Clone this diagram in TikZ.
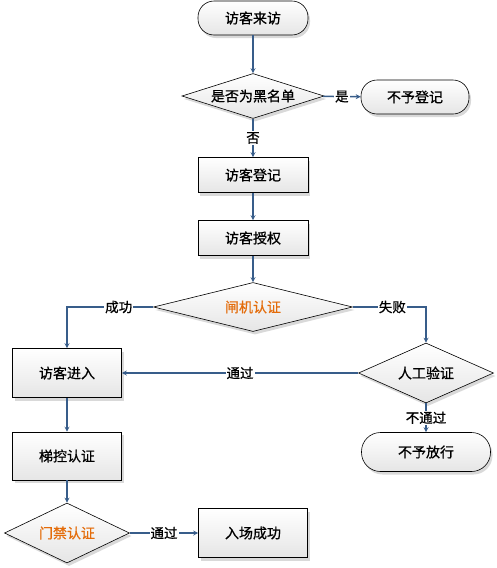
\documentclass[tikz,border=0pt]{standalone}
\usepackage{fontspec}
\setmainfont{Noto Sans CJK SC}[FakeBold=0.7]
\usetikzlibrary{shapes.geometric,arrows.meta,shadows}
\definecolor{lineblue}{HTML}{385D8A}
\definecolor{orangetxt}{HTML}{E46C0A}
\tikzset{
  base/.style={draw=black, line width=0.6pt, top color=white, bottom color=black!10,
    font=\fontsize{14}{16}\selectfont, inner sep=0pt,
    drop shadow={shadow xshift=2pt, shadow yshift=-3pt, fill=black!15, opacity=1}},
  boxnode/.style={base, rectangle, minimum width=110pt, minimum height=#1},
  boxnode/.default=36pt,
  termnode/.style={base, rectangle, rounded corners=16pt, minimum width=110pt, minimum height=34pt},
  decnode/.style={base, diamond, aspect=3},
  arr/.style={draw=lineblue, line width=1.5pt, -{Stealth[length=5pt,width=5pt]}},
  lbl/.style={fill=white, inner sep=1pt, font=\fontsize{13.5}{15}\selectfont}
}
\begin{document}
\begin{tikzpicture}[x=1pt,y=-1pt]
\useasboundingbox (0,0) rectangle (496,568);
\node[termnode] (start) at (253,18) {访客来访};
\node[decnode, minimum width=142pt, minimum height=45pt] (black) at (253,96) {是否为黑名单};
\node[termnode, minimum width=108pt] (deny1) at (415,97) {不予登记};
\node[boxnode=35pt] (reg) at (253,175) {访客登记};
\node[boxnode=35pt] (auth) at (253,238) {访客授权};
\node[decnode, minimum width=199pt, minimum height=49pt, text=orangetxt] (gate) at (253,307) {闸机认证};
\node[boxnode=49pt, minimum width=109pt] (enter) at (67,373) {访客进入};
\node[decnode, minimum width=135pt, minimum height=60pt] (manual) at (426,373) {人工验证};
\node[termnode, minimum width=129pt, minimum height=39pt, rounded corners=19pt] (deny2) at (426,452) {不予放行};
\node[boxnode=48pt, minimum width=109pt] (lift) at (67,456) {梯控认证};
\node[decnode, minimum width=125pt, minimum height=60pt, text=orangetxt] (door) at (67,533) {门禁认证};
\node[boxnode=49pt, minimum width=109pt] (success) at (253,533) {入场成功};

\draw[arr] (start) -- (black);
\draw[arr] (black) -- node[lbl]{是} (deny1);
\draw[arr] (black) -- node[lbl]{否} (reg);
\draw[arr] (reg) -- (auth);
\draw[arr] (auth) -- (gate);
\draw[arr] (gate.west) -| node[lbl, pos=0.2]{成功} (enter.north);
\draw[arr] (gate.east) -| node[lbl, pos=0.27]{失败} (manual.north);
\draw[arr] (manual) -- node[lbl]{通过} (enter);
\draw[arr] (manual) -- node[lbl]{不通过} (deny2);
\draw[arr] (enter) -- (lift);
\draw[arr] (lift) -- (door);
\draw[arr] (door) -- node[lbl]{通过} (success);
\end{tikzpicture}
\end{document}
